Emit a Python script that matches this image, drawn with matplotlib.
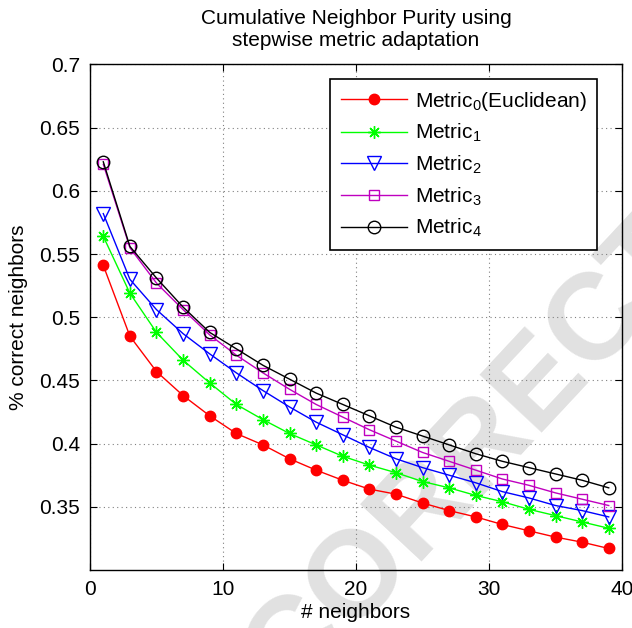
import matplotlib
matplotlib.use('Agg')
import matplotlib.pyplot as plt

plt.rcParams['font.family'] = ['Liberation Sans', 'DejaVu Sans']
plt.rcParams['mathtext.fontset'] = 'custom'
plt.rcParams['mathtext.rm'] = 'Liberation Sans'
plt.rcParams['mathtext.default'] = 'regular'

# number of neighbors evaluated
neighbors = [1, 3, 5, 7, 9, 11, 13, 15, 17, 19, 21, 23, 25, 27, 29, 31, 33, 35, 37, 39]

metric0 = [0.541, 0.485, 0.457, 0.438, 0.422, 0.408, 0.399, 0.388, 0.379, 0.371,
           0.364, 0.360, 0.353, 0.347, 0.342, 0.336, 0.331, 0.326, 0.322, 0.317]
metric1 = [0.564, 0.519, 0.488, 0.466, 0.448, 0.431, 0.419, 0.408, 0.399, 0.390,
           0.383, 0.377, 0.370, 0.365, 0.359, 0.354, 0.348, 0.343, 0.338, 0.333]
metric2 = [0.582, 0.530, 0.506, 0.487, 0.471, 0.456, 0.442, 0.429, 0.417, 0.407,
           0.397, 0.388, 0.381, 0.375, 0.369, 0.362, 0.357, 0.351, 0.347, 0.342]
metric3 = [0.621, 0.555, 0.527, 0.506, 0.486, 0.470, 0.456, 0.443, 0.431, 0.421,
           0.411, 0.402, 0.393, 0.386, 0.379, 0.372, 0.367, 0.361, 0.356, 0.351]
metric4 = [0.623, 0.556, 0.531, 0.508, 0.488, 0.475, 0.462, 0.451, 0.440, 0.431,
           0.422, 0.413, 0.406, 0.399, 0.392, 0.386, 0.381, 0.376, 0.371, 0.365]

labels = [r'Metric$_0$(Euclidean)', r'Metric$_1$', r'Metric$_2$', r'Metric$_3$', r'Metric$_4$']

fig = plt.figure(figsize=(6.32, 6.28), dpi=100)
ax = fig.add_axes([0.1424, 0.0924, 0.8418, 0.8049])
ax.patch.set_visible(False)

# light proof watermark behind the data
fig.text(1.0, 0.538, 'UNCORRECTED PROOF', fontsize=88, fontweight='bold',
         color='#e1e1e1', rotation=47, ha='center', va='center',
         rotation_mode='anchor', zorder=-5)

ax.plot(neighbors, metric0, '-', color='r', marker='o', ms=7.5, mfc='r', mec='r', lw=1, label=labels[0])
ax.plot(neighbors, metric1, '-', color=(0, 1, 0), marker=(8, 2, 0), ms=9, mew=1, lw=1, label=labels[1])
ax.plot(neighbors, metric2, '-', color='b', marker='v', ms=10, mfc='none', mew=1, lw=1, label=labels[2])
ax.plot(neighbors, metric3, '-', color='m', marker='s', ms=7, mfc='none', mew=1, lw=1, label=labels[3])
ax.plot(neighbors, metric4, '-', color='k', marker='o', ms=9, mfc='none', mew=1, lw=1, label=labels[4])

ax.set_xlim(0, 40)
ax.set_ylim(0.3, 0.7)
ax.set_xticks([0, 10, 20, 30, 40])
ax.set_yticks([0.35, 0.4, 0.45, 0.5, 0.55, 0.6, 0.65, 0.7])
ax.set_yticklabels(['0.35', '0.4', '0.45', '0.5', '0.55', '0.6', '0.65', '0.7'])
ax.tick_params(direction='in', top=True, right=True, length=5, width=0.8,
               labelsize=15, pad=7)
ax.grid(True, color='0.5', linestyle=(0, (1, 3)), linewidth=0.8)
for s in ax.spines.values():
    s.set_linewidth(1.0)

ax.set_xlabel('# neighbors', fontsize=15, labelpad=3)
ax.set_ylabel('% correct neighbors', fontsize=15, labelpad=8)
ax.set_title('Cumulative Neighbor Purity using\nstepwise metric adaptation', fontsize=15, pad=13)

leg = ax.legend(loc='upper right', bbox_to_anchor=(0.953, 0.971), borderaxespad=0,
                fontsize=15, numpoints=1, handlelength=3.2, handletextpad=0.35,
                borderpad=0.5, labelspacing=0.45, fancybox=False, framealpha=1)
leg.get_frame().set_edgecolor('k')
leg.get_frame().set_linewidth(1.2)

fig.savefig('out.png', dpi=100)
